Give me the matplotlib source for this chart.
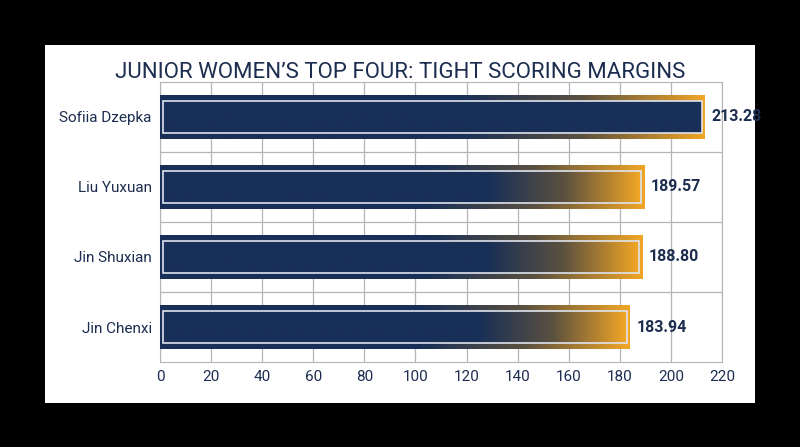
import matplotlib.pyplot as plt
import numpy as np
from matplotlib.colors import LinearSegmentedColormap
from matplotlib.patches import Rectangle

skaters = ["Sofiia Dzepka", "Liu Yuxuan", "Jin Shuxian", "Jin Chenxi"]
scores = [213.28, 189.57, 188.80, 183.94]
ticks = [0, 20, 40, 60, 80, 100, 120, 140, 160, 180, 200, 220]

NAVY = "#182f57"
ORANGE = "#f0a526"
TEXT = "#1c2d4f"

plt.rcParams['font.family'] = ['Roboto', 'DejaVu Sans']

fig = plt.figure(figsize=(8, 4.47), dpi=100, facecolor="black")
fig.patches.append(Rectangle((45/800, 1-403/447), 710/800, 358/447,
                             transform=fig.transFigure, facecolor="white", zorder=-5))
ax = fig.add_axes([0.2, 0.19, 0.7025, 0.627])
ax.set_facecolor("white")

def grad(start):
    t = np.linspace(0, 1, 256)
    v = np.clip((t - start) / (1 - start), 0, 1)
    return v.reshape(1, -1)

cmap = LinearSegmentedColormap.from_list("no", [NAVY, "#5a5040", ORANGE])
h = 0.62
for i, (name, val) in enumerate(zip(skaters, scores)):
    y = i
    ax.imshow(grad(0.55), cmap=cmap, aspect="auto", extent=[0, val, y + h/2, y - h/2],
              zorder=3, vmin=0, vmax=1)
    ih = h - 0.17
    iw = val - 2.6
    inner = np.zeros((1, 256)) if i == 0 else grad(0.68)
    ax.imshow(inner, cmap=cmap, aspect="auto", extent=[1.3, 1.3 + iw, y + ih/2, y - ih/2],
              zorder=4, vmin=0, vmax=1)
    ax.add_patch(Rectangle((1.3, y - ih/2), iw, ih, fill=False, edgecolor="#dfe4ee",
                           linewidth=1.2, zorder=5))
    ax.text(val + 2.5, y, f"{val:.2f}", va="center", ha="left", fontsize=11.5,
            fontweight="bold", color=TEXT, zorder=6)

ax.set_xlim(0, 220)
ax.set_ylim(len(skaters) - 0.5, -0.5)
ax.set_xticks(ticks)
ax.set_yticks(range(len(skaters)))
ax.set_yticklabels(skaters)
ax.tick_params(axis="both", length=0, labelsize=11, colors=TEXT, pad=6)
ax.grid(axis="x", color="#b5b5b5", linewidth=0.9, zorder=1)
for yb in np.arange(0.5, len(skaters) - 0.5, 1):
    ax.axhline(yb, color="#b5b5b5", linewidth=0.9, zorder=1)
for s in ax.spines.values():
    s.set_color("#b5b5b5")
ax.set_axisbelow(True)

fig.text(0.5, 1 - 73/447, "JUNIOR WOMEN\u2019S TOP FOUR: TIGHT SCORING MARGINS",
         ha="center", va="center", fontsize=16, color=TEXT)

fig.savefig("out.png", dpi=100, facecolor="black")
